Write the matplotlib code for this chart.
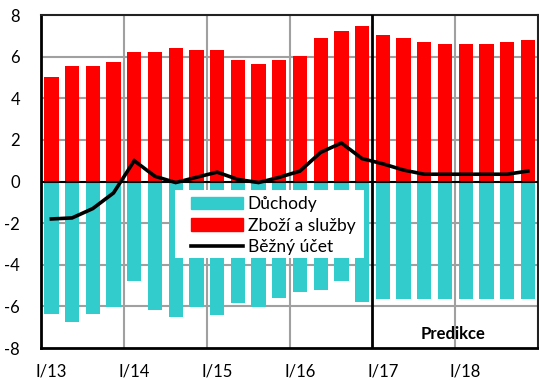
import numpy as np
import matplotlib.pyplot as plt
from matplotlib.patches import Patch, Rectangle
from matplotlib.lines import Line2D

plt.rcParams['font.family'] = ['Lato', 'DejaVu Sans']

# quarterly data 2013Q1 - 2018Q4 (% HDP)
years = ['I/13', 'I/14', 'I/15', 'I/16', 'I/17', 'I/18']
zbozi = [5.0, 5.55, 5.55, 5.75, 6.2, 6.2, 6.4, 6.3, 6.3, 5.85, 5.65, 5.85,
         6.05, 6.9, 7.25, 7.45, 7.05, 6.9, 6.7, 6.6, 6.6, 6.6, 6.7, 6.8]
duchody = [-6.35, -6.75, -6.35, -6.05, -4.8, -6.15, -6.5, -6.05, -6.4, -5.85, -6.05, -5.6,
           -5.3, -5.2, -4.8, -5.8, -5.65, -5.65, -5.65, -5.65, -5.65, -5.65, -5.65, -5.65]
bezny_ucet = [-1.8, -1.75, -1.3, -0.55, 1.0, 0.25, -0.05, 0.2, 0.45, 0.1, -0.05, 0.2,
              0.5, 1.4, 1.85, 1.1, 0.85, 0.55, 0.35, 0.35, 0.35, 0.35, 0.35, 0.5]

teal = '#33CCCC'
red = '#FF0000'

x = np.arange(len(zbozi))

fig = plt.figure(figsize=(5.39, 3.80), dpi=100)
ax = fig.add_axes([0.0761, 0.0842, 0.9224, 0.8763])

ax.bar(x, zbozi, width=0.69, color=red, zorder=2)
ax.bar(x, duchody, width=0.69, color=teal, zorder=2)
ax.plot(x, bezny_ucet, color='black', lw=2.6, zorder=4, solid_joinstyle='miter')

# year grid
for xv in [3.5, 7.5, 11.5, 19.5]:
    ax.axvline(xv, color='#a0a0a0', lw=1.5, zorder=1)
ax.axvline(15.5, color='black', lw=2.0, zorder=3)
for yv in [-6, -4, -2, 2, 4, 6]:
    ax.axhline(yv, color='#a0a0a0', lw=1.5, zorder=1)
ax.axhline(0, color='black', lw=1.5, zorder=3)

ax.set_xlim(-0.5, 23.5)
ax.set_ylim(-8, 8)
ax.set_yticks(range(-8, 9, 2))
ax.set_yticklabels([str(v) for v in range(-8, 9, 2)])
ax.set_xticks(x[::4])
ax.set_xticklabels(years)
ax.tick_params(axis='both', length=0, labelsize=12, colors='black')
ax.tick_params(axis='y', pad=15)
ax.tick_params(axis='x', pad=11)

for s in ['left', 'bottom']:
    ax.spines[s].set_linewidth(2.0)
    ax.spines[s].set_color('black')
for s in ['top', 'right']:
    ax.spines[s].set_linewidth(1.5)
    ax.spines[s].set_color('#222222')

ax.text(19.4, -7.35, 'Predikce', fontsize=12, fontweight='bold', ha='center', va='center', zorder=5)

# white box behind the legend
ax.add_patch(Rectangle((0.27, 0.27), 0.38, 0.204, transform=ax.transAxes,
                       facecolor='white', edgecolor='none', zorder=5))

handles = [Patch(color=teal), Patch(color=red), Line2D([], [], color='black', lw=2.6)]
leg = ax.legend(handles, ['Důchody', 'Zboží a služby', 'Běžný účet'],
                loc='upper left', bbox_to_anchor=(0.302, 0.457), borderaxespad=0,
                fontsize=12.5, frameon=False,
                handlelength=3.0, handletextpad=0.25, labelspacing=0.33,
                borderpad=0)
leg.set_zorder(6)

fig.savefig('out.png', dpi=100)
